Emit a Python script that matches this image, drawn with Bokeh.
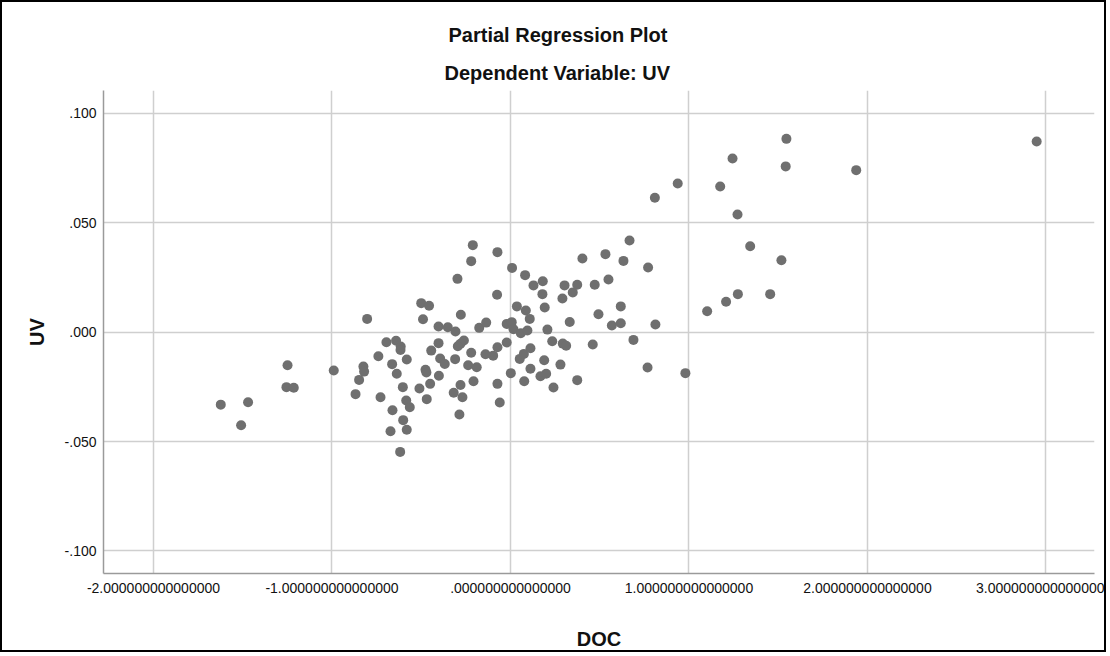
from bokeh.plotting import figure
from bokeh.models import Range1d, FixedTicker, Title, ColumnDataSource
from bokeh.embed import file_html
from bokeh.resources import INLINE

# ---- data ----
doc = [
    -1.623, -1.470, -1.509, -1.249, -1.255, -1.214, -0.990, -0.803, -0.824, -0.820,
    -0.848, -0.868, -0.740, -0.728, -0.695, -0.641, -0.615, -0.616, -0.663, -0.581,
    -0.637, -0.603, -0.661, -0.601, -0.672, -0.581, -0.618, -0.584, -0.564, -0.510,
    -0.469, -0.476, -0.471, -0.444, -0.450, -0.500, -0.456, -0.490, -0.403,
    -0.211, -0.220, -0.073, 0.009, -0.297, 0.082, 0.129, 0.181, 0.179, 0.192,
    0.303, 0.374, 0.349, 0.291, 0.403, 0.532, 0.472, 0.549, 0.493, 0.332,
    0.568, 0.461, -0.075, -0.278, -0.351, -0.308, -0.175, -0.136, -0.021, 0.007,
    0.017, 0.036, 0.086, 0.108, 0.058, 0.095, 0.207, 0.234, 0.293, 0.312,
    -0.021, -0.073, -0.097, -0.140, -0.220, -0.261, -0.280, -0.295, -0.403, -0.394,
    -0.368, -0.310, -0.237, -0.189, -0.401, -0.207, -0.280, -0.318, -0.269, -0.286,
    -0.073, -0.060, 0.002, 0.077, 0.052, 0.075, 0.112, 0.112, 0.168, 0.200,
    0.189, 0.280, 0.241, 0.374,
    1.244, 1.542, 1.937, 0.937, 1.175, 0.809, 1.272, 1.343, 1.518, 0.667,
    0.633, 0.771, 1.274, 1.455, 1.208, 1.102, 0.618, 0.618, 0.812, 0.689,
    0.768, 0.980, 2.948, 1.546,
]
uv = [
    -0.0331, -0.0320, -0.0425, -0.0151, -0.0251, -0.0254, -0.0175, 0.0061, -0.0157, -0.0180,
    -0.0218, -0.0283, -0.0110, -0.0297, -0.0046, -0.0039, -0.0065, -0.0081, -0.0146, -0.0125,
    -0.0190, -0.0251, -0.0357, -0.0402, -0.0453, -0.0446, -0.0547, -0.0312, -0.0343, -0.0257,
    -0.0306, -0.0172, -0.0184, -0.0084, -0.0236, 0.0133, 0.0121, 0.0059, 0.0026,
    0.0398, 0.0325, 0.0366, 0.0294, 0.0244, 0.0261, 0.0214, 0.0233, 0.0174, 0.0113,
    0.0214, 0.0217, 0.0182, 0.0154, 0.0337, 0.0357, 0.0217, 0.0241, 0.0082, 0.0047,
    0.0031, -0.0056, 0.0171, 0.0080, 0.0023, 0.0003, 0.0020, 0.0044, 0.0038, 0.0046,
    0.0014, 0.0118, 0.0099, 0.0061, -0.0005, 0.0008, 0.0012, -0.0041, -0.0052, -0.0062,
    -0.0047, -0.0069, -0.0107, -0.0101, -0.0094, -0.0038, -0.0053, -0.0064, -0.0050, -0.0120,
    -0.0145, -0.0123, -0.0151, -0.0160, -0.0199, -0.0224, -0.0241, -0.0277, -0.0297, -0.0376,
    -0.0236, -0.0321, -0.0187, -0.0224, -0.0122, -0.0099, -0.0073, -0.0167, -0.0201, -0.0190,
    -0.0128, -0.0148, -0.0253, -0.0219,
    0.0794, 0.0758, 0.0741, 0.0680, 0.0666, 0.0615, 0.0538, 0.0393, 0.0329, 0.0419,
    0.0326, 0.0296, 0.0174, 0.0174, 0.0139, 0.0096, 0.0118, 0.0041, 0.0035, -0.0035,
    -0.0161, -0.0187, 0.0872, 0.0884,
]

x_ticks = [-2, -1, 0, 1, 2, 3]
x_tick_labels = ["-2.000000000000000", "-1.000000000000000", ".000000000000000",
                 "1.000000000000000", "2.000000000000000", "3.000000000000000"]
y_ticks = [-0.1, -0.05, 0.0, 0.05, 0.1]
y_tick_labels = ["-.100", "-.050", ".000", ".050", ".100"]

title_text = "Partial Regression Plot"
subtitle_text = "Dependent Variable: UV"
x_title = "DOC"
y_title = "UV"

FONT = "Liberation Sans"

p = figure(width=1106, height=652,
           x_range=Range1d(-2.28, 3.272), y_range=Range1d(-0.1103, 0.1105),
           output_backend="svg", toolbar_location=None,
           min_border_left=101, min_border_right=14,
           min_border_top=88, min_border_bottom=81)
p.styles = {"border": "2px solid black"}
p.background_fill_color = "white"
p.border_fill_color = "white"
p.outline_line_color = None

src = ColumnDataSource(dict(x=doc, y=uv))
p.scatter("x", "y", source=src, size=10, fill_color="#6f6f6f", line_color=None)

for ax in (p.xaxis[0], p.yaxis[0]):
    ax.axis_line_color = "#9a9a9a"
    ax.axis_line_width = 1.5
    ax.major_tick_line_color = None
    ax.minor_tick_line_color = None
    ax.major_tick_out = 0
    ax.major_tick_in = 0
    ax.major_label_text_font = FONT
    ax.major_label_text_font_size = "14px"
    ax.major_label_text_color = "#111111"
    ax.axis_label_text_font = FONT
    ax.axis_label_text_font_size = "20px"
    ax.axis_label_text_font_style = "bold"
    ax.axis_label_text_color = "#111111"

p.xaxis.ticker = FixedTicker(ticks=x_ticks)
p.xaxis.major_label_overrides = {t: l for t, l in zip(x_ticks, x_tick_labels)}
p.yaxis.ticker = FixedTicker(ticks=y_ticks)
p.yaxis.major_label_overrides = {t: l for t, l in zip(y_ticks, y_tick_labels)}
p.xaxis.major_label_standoff = 9
p.yaxis.major_label_standoff = 7
p.xaxis.axis_label = x_title
p.yaxis.axis_label = y_title
p.xaxis.axis_label_standoff = 32
p.yaxis.axis_label_standoff = 14

p.xgrid.ticker = FixedTicker(ticks=x_ticks)
p.ygrid.ticker = FixedTicker(ticks=y_ticks)
for g in (p.xgrid[0], p.ygrid[0]):
    g.grid_line_color = "#cfcfcf"
    g.grid_line_width = 1.5

# subtitle first (closest to the plot), then main title above it
p.add_layout(Title(text=subtitle_text, align="left", offset=341, standoff=13,
                   text_font=FONT, text_font_size="20px", text_font_style="bold",
                   text_color="#111111"), "above")
p.add_layout(Title(text=title_text, align="left", offset=345, standoff=16,
                   text_font=FONT, text_font_size="20px", text_font_style="bold",
                   text_color="#111111"), "above")

open("out.html", "w").write(file_html(p, INLINE))
